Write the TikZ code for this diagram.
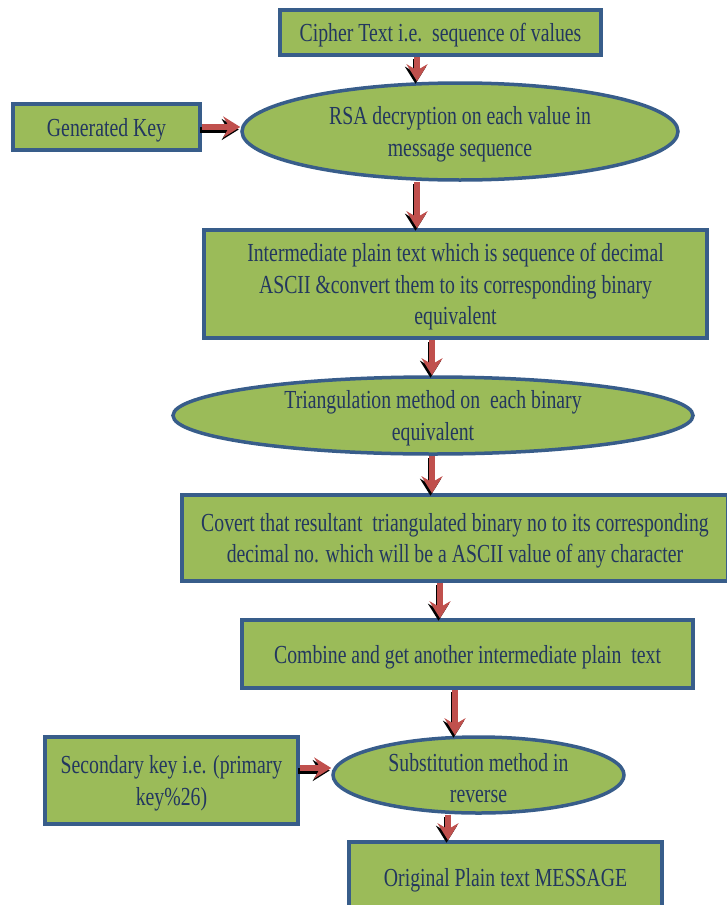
\documentclass[tikz,border=0pt]{standalone}
\usepackage{fontspec}
\setmainfont[FakeStretch=0.76]{Liberation Serif}
\usetikzlibrary{shapes.geometric}
\usetikzlibrary{arrows.meta}

\definecolor{boxgreen}{RGB}{155,187,89}
\definecolor{boxblue}{RGB}{56,93,138}
\definecolor{textblue}{RGB}{35,55,95}
\definecolor{arrowred}{RGB}{192,80,77}

\tikzset{
  flowbox/.style={rectangle, draw=boxblue, line width=3.5pt, fill=boxgreen,
    inner sep=0pt, align=center, text=textblue,
    font=\fontsize{26}{31.5}\selectfont},
  flowoval/.style={flowbox, ellipse, inner ysep=-5pt},
  redarrow/.style={draw=arrowred, line width=6pt,
    -{Stealth[length=17pt,width=21pt,inset=6pt]}},
  arrowshade/.style={redarrow, draw=black,
    transform canvas={shift={(-1.5,2.5)}}}
}

% taller first line, pushes the text a little down
\newcommand{\topgap}{\rule{0pt}{24pt}}

\newcommand{\shadedarrow}[2]{%
  \draw[arrowshade] #1 -- #2;
  \draw[redarrow] #1 -- #2;}

\begin{document}
\begin{tikzpicture}[x=1pt,y=-1pt]

\path[use as bounding box, fill=white] (0,0) rectangle (727,905);

% top row
\node[flowbox, minimum width=321, minimum height=45] (cipher) at (440.5,32.5)
  {\topgap Cipher Text i.e.\ \ sequence of values};
\node[flowbox, minimum width=187, minimum height=46] (genkey) at (106.5,127)
  {\topgap Generated Key};
\node[flowoval, minimum width=436, minimum height=97] (rsa) at (460,131.5)
  {\topgap RSA decryption on each value in\\ message sequence};

% middle steps
\node[flowbox, minimum width=503, minimum height=108] (interm) at (455.5,284)
  {\topgap Intermediate plain text which is sequence of decimal\\
   ASCII \&convert them to its corresponding binary\\ equivalent};
\node[flowoval, minimum width=520, minimum height=77] (triang) at (433,415.5)
  {\topgap Triangulation method on\ \ each binary\\ equivalent};
\node[flowbox, minimum width=546, minimum height=86] (covert) at (455,538)
  {\topgap Covert that resultant\ \ triangulated binary no to its corresponding\\
   decimal no. which will be a ASCII value of any character};
\node[flowbox, minimum width=451, minimum height=68] (combine) at (467.5,654)
  {\topgap Combine and get another intermediate plain\ \ text};

% bottom row
\node[flowbox, minimum width=253, minimum height=87] (seckey) at (171.5,780.5)
  {\topgap Secondary key i.e. (primary\\ key\%26)};
\node[flowoval, minimum width=291, minimum height=76] (subst) at (478.5,775)
  {\topgap Substitution method in\\ reverse};
\node[flowbox, minimum width=313, minimum height=70] (original) at (505.5,877)
  {\topgap Original Plain text MESSAGE};

% arrow columns
\coordinate (colA) at (417,0);
\coordinate (colB) at (432,0);
\coordinate (colC) at (440,0);
\coordinate (colD) at (455,0);
\coordinate (colE) at (448,0);
\coordinate (rowA) at (0,768);

\shadedarrow{(cipher.south -| colA)}{(rsa.north -| colA)}
\shadedarrow{(genkey.east)}{(genkey.east -| rsa.west)}
\shadedarrow{(rsa.south -| colA)}{(interm.north -| colA)}
\shadedarrow{(interm.south -| colB)}{(triang.north -| colB)}
\shadedarrow{(triang.south -| colB)}{(covert.north -| colB)}
\shadedarrow{(covert.south -| colC)}{(combine.north -| colC)}
\shadedarrow{(combine.south -| colD)}{(subst.north -| colD)}
\shadedarrow{(seckey.east |- rowA)}{(subst.west |- rowA)}
\shadedarrow{(subst.south -| colE)}{(original.north -| colE)}

\end{tikzpicture}
\end{document}
